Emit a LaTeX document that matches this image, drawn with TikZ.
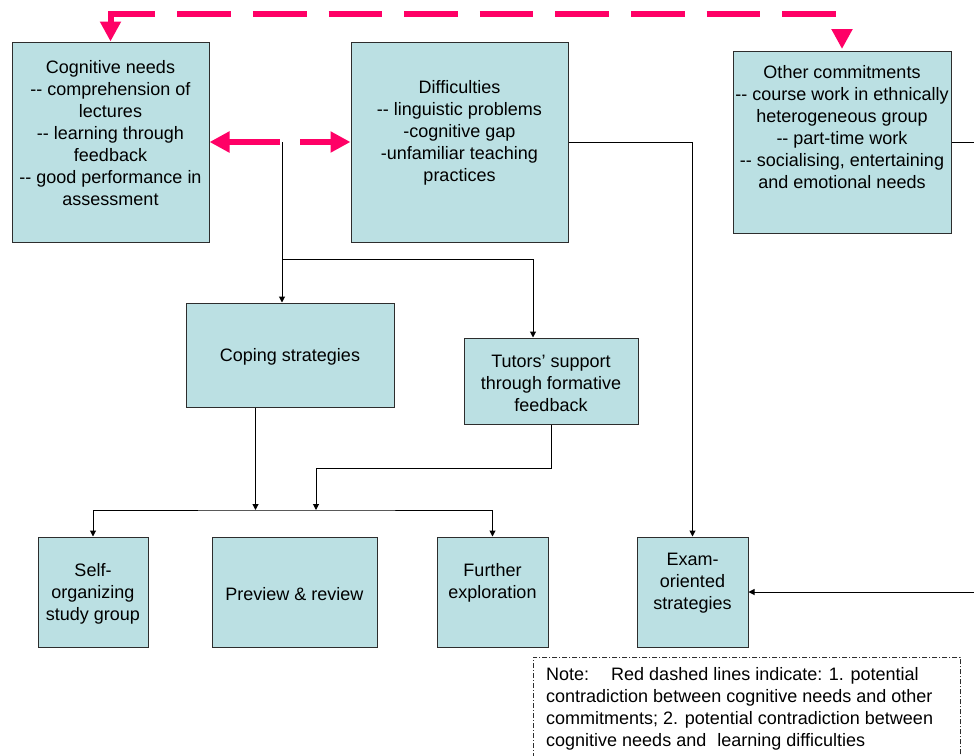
\documentclass[tikz,border=0pt]{standalone}
\usepackage{fontspec}
\setmainfont{Liberation Sans}[Ligatures=TeXOff]
\usetikzlibrary{arrows.meta,calc}
\definecolor{boxfill}{RGB}{187,224,227}
\definecolor{boxline}{RGB}{45,45,45}
\definecolor{conflict}{RGB}{255,0,102}
\tikzset{
  box/.style={draw=boxline, line width=1pt, fill=boxfill, inner sep=0pt},
  txt/.style={align=center, inner sep=0pt, font=\fontsize{18}{22}\selectfont},
  flow/.style={draw=black, line width=1pt, -{Triangle[length=6pt,width=6pt]}},
  flowboth/.style={draw=black, line width=1pt, {Triangle[length=6pt,width=6pt]}-{Triangle[length=6pt,width=6pt]}},
  conflictline/.style={draw=conflict, line width=6pt,
    {Triangle[length=20pt,width=20pt]}-{Triangle[length=20pt,width=20pt]}},
  notebox/.style={draw=boxline, line width=0.8pt, inner sep=0pt,
    dash pattern=on 5pt off 2pt on 1pt off 2pt},
}
\begin{document}
\begin{tikzpicture}[x=1pt,y=-1pt]
\path[use as bounding box, clip] (0,0) rectangle (974,755);
\fill[white] (0,0) rectangle (974,755);

% upper row
\node[box, minimum width=197pt, minimum height=200pt] (cn) at (110.5,142) {};
\node[txt] (cnt) at (110.5,133) {Cognitive needs\\-- comprehension of\\lectures\\-- learning through\\feedback\\-- good performance in\\assessment};
\node[box, minimum width=217pt, minimum height=200pt] (diff) at (459.5,142) {};
\node[txt] (difft) at (459.5,133) {Difficulties\\-- linguistic problems\\-cognitive gap\\-unfamiliar teaching\\practices};
\node[box, minimum width=218pt, minimum height=182pt] (oc) at (842,142) {};
\node[txt] (oct) at (842,127.5) {Other commitments\\-- course work in ethnically\\heterogeneous group\\-- part-time work\\-- socialising, entertaining\\and emotional needs};

% middle row
\node[box, minimum width=208pt, minimum height=104pt] (coping) at (290,355) {};
\node[txt] (copingt) at (290,357) {Coping strategies};
\node[box, minimum width=174pt, minimum height=86pt] (tutors) at (551,381) {};
\node[txt] (tutorst) at (551,383) {Tutors’ support\\through formative\\feedback};

% lower row
\node[box, minimum width=110pt, minimum height=110pt] (self) at (93,592) {};
\node[txt] (selft) at (93,594) {Self-\\organizing\\study group};
\node[box, minimum width=165pt, minimum height=110pt] (preview) at (294.5,592) {};
\node[txt] (previewt) at (294.5,594) {Preview \& review};
\node[box, minimum width=111pt, minimum height=110pt] (further) at (492.5,592) {};
\node[txt] (furthert) at (492.5,583) {Further\\exploration};
\node[box, minimum width=111pt, minimum height=110pt] (exam) at (692.5,592) {};
\node[txt] (examt) at (692.5,583) {Exam-\\oriented\\strategies};

% note
\node[notebox, anchor=north west, minimum width=427pt, minimum height=130pt] (note) at (533,657) {};
\node[align=left, inner sep=0pt, anchor=north west, font=\fontsize{18}{22}\selectfont] (notet) at (546,667)
  {Note:\hspace*{22pt}Red dashed lines indicate: 1. potential\\
   contradiction between cognitive needs and other\\
   commitments; 2. potential contradiction between\\
   cognitive needs and\hspace*{11pt}learning difficulties};

% black connectors
\coordinate (j1) at (282,142);
\coordinate (j2) at (282,259);
\coordinate (tt) at ([xshift=-18pt]tutors.north);
\coordinate (tb) at (316,468);
\coordinate (bus) at (300,510);
\coordinate (offr) at (995,142);
\draw[line width=1pt] (j1) -- (j2);
\draw[flow] (j2) -- (j2 |- coping.north);
\draw[flow] (j2) -| (tt);
\draw[flow] ([xshift=-34.5pt]coping.south) -- ([xshift=-34.5pt]coping.south |- bus);
\draw[flow] (tutors.south) |- (tb) -- (tb |- bus);
\draw[flowboth] (self.north) |- (bus) -| (further.north);
\draw[flow] (diff.east) -| (exam.north);
\draw[flow] (oc.east) -- (offr) |- (exam.east);

% red dashed connectors
\coordinate (topbend) at (842,14);
\draw[conflictline, dash pattern=on 53.6pt off 22pt, shorten >=1.5pt]
  (cn.north) |- (topbend) -- (oc.north);
\draw[conflictline, dash pattern=on 52pt off 20pt] (cn.east) -- (diff.west);
\end{tikzpicture}
\end{document}
